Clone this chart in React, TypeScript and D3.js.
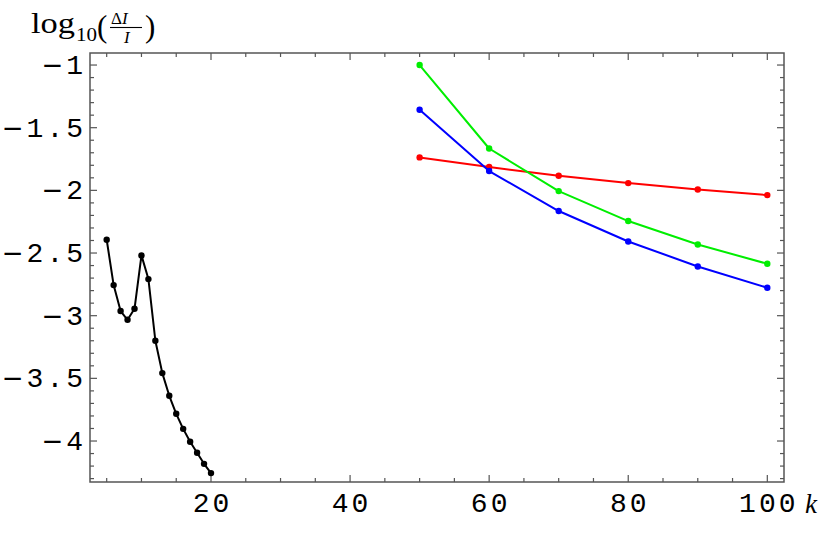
import React from "react";
import * as d3 from "d3";

const blackK = [5, 6, 7, 8, 9, 10, 11, 12, 13, 14, 15, 16, 17, 18, 19, 20];
const blackV = [-2.394, -2.756, -2.963, -3.033, -2.945, -2.519, -2.708, -3.2, -3.458, -3.639, -3.783, -3.903, -4.006, -4.094, -4.182, -4.256];

const colorK = [50, 60, 70, 80, 90, 100];
const greenV = [-1.0, -1.666, -2.006, -2.245, -2.432, -2.586];
const blueV = [-1.357, -1.846, -2.165, -2.408, -2.607, -2.777];
const redV = [-1.737, -1.814, -1.883, -1.942, -1.993, -2.038];

const xMajor = [20, 40, 60, 80, 100];
const xLabels = ["20", "40", "60", "80", "100"];
const yMajor = [-4, -3.5, -3, -2.5, -2, -1.5, -1];
const yLabels = ["4", "3.5", "3", "2.5", "2", "1.5", "1"];

const W = 830;
const H = 556;
const L = 90, R = 784, T = 53, B = 482;

export default function App() {
  const x = d3.scaleLinear().domain([2.6, 102.4]).range([L, R]);
  const y = d3.scaleLinear().domain([-4.327, -0.904]).range([B, T]);

  const line = d3
    .line<[number, number]>()
    .x((d) => x(d[0]))
    .y((d) => y(d[1]));

  const series = [
    { k: blackK, v: blackV, c: "#000000" },
    { k: colorK, v: redV, c: "#ff0000" },
    { k: colorK, v: greenV, c: "#00ee00" },
    { k: colorK, v: blueV, c: "#0000ff" },
  ];

  const xMinor: number[] = [];
  for (let i = 5; i <= 100; i += 5) if (!xMajor.includes(i)) xMinor.push(i);
  const yMinor: number[] = [];
  for (let i = -43; i <= -10; i++) if (i % 5 !== 0) yMinor.push(i / 10);

  const frameColor = "#555";
  const monoStyle: React.CSSProperties = {
    fontFamily: "'Liberation Mono', monospace",
    fontSize: 28,
    letterSpacing: "3px",
  };

  return (
    <svg width={W} height={H} style={{ position: "absolute", left: 0, top: 0, background: "#fff" }}>
      <rect x={0} y={0} width={W} height={H} fill="#fff" />
      {/* ticks */}
      <g stroke={frameColor} strokeWidth={1.2}>
        {xMajor.map((t) => (
          <g key={"xm" + t}>
            <line x1={x(t)} x2={x(t)} y1={B} y2={B - 7} />
            <line x1={x(t)} x2={x(t)} y1={T} y2={T + 7} />
          </g>
        ))}
        {xMinor.map((t) => (
          <g key={"xn" + t}>
            <line x1={x(t)} x2={x(t)} y1={B} y2={B - 4} />
            <line x1={x(t)} x2={x(t)} y1={T} y2={T + 4} />
          </g>
        ))}
        {yMajor.map((t) => (
          <g key={"ym" + t}>
            <line x1={L} x2={L + 7} y1={y(t)} y2={y(t)} />
            <line x1={R} x2={R - 7} y1={y(t)} y2={y(t)} />
          </g>
        ))}
        {yMinor.map((t) => (
          <g key={"yn" + t}>
            <line x1={L} x2={L + 4} y1={y(t)} y2={y(t)} />
            <line x1={R} x2={R - 4} y1={y(t)} y2={y(t)} />
          </g>
        ))}
      </g>
      <rect x={L} y={T} width={R - L} height={B - T} fill="none" stroke={frameColor} strokeWidth={1.5} />

      {/* series */}
      {series.map((s, i) => {
        const pts: [number, number][] = s.k.map((k, j) => [k, s.v[j]]);
        return (
          <g key={"s" + i}>
            <path d={line(pts) || ""} fill="none" stroke={s.c} strokeWidth={2} strokeLinejoin="round" />
            {pts.map((p, j) => (
              <circle key={j} cx={x(p[0])} cy={y(p[1])} r={3.2} fill={s.c} />
            ))}
          </g>
        );
      })}

      {/* x labels */}
      {xMajor.map((t, i) => (
        <text key={"xl" + t} x={x(t) + 1.5} y={512} textAnchor="middle" style={monoStyle} fill="#000">
          {xLabels[i]}
        </text>
      ))}
      {/* y labels */}
      {yMajor.map((t, i) => (
        <text key={"yl" + t} x={86} y={y(t) + 9} textAnchor="end" style={monoStyle} fill="#000">
          <tspan style={{ fontFamily: "'DejaVu Sans', sans-serif", fontSize: 26 }}>{"\u2212"}</tspan>
          {yLabels[i]}
        </text>
      ))}

      {/* axis label k */}
      <text x={805} y={513} style={{ fontFamily: "'Liberation Serif', serif", fontStyle: "italic", fontSize: 27 }} fill="#000">
        k
      </text>

      {/* y title log10(ΔI/I) */}
      <g fill="#000" style={{ fontFamily: "'Liberation Serif', serif" }}>
        <text x={31} y={33} fontSize={30} textLength={44} lengthAdjust="spacingAndGlyphs">log</text>
        <text x={76} y={41} fontSize={19} textLength={21} lengthAdjust="spacingAndGlyphs">10</text>
        <text x={97} y={37} fontSize={31}>(</text>
        <text x={111} y={24} fontSize={17}>
          Δ<tspan fontStyle="italic">I</tspan>
        </text>
        <line x1={110} x2={142} y1={27.5} y2={27.5} stroke="#000" strokeWidth={1.1} />
        <text x={124} y={43} fontSize={17} fontStyle="italic">I</text>
        <text x={145} y={37} fontSize={31}>)</text>
      </g>
    </svg>
  );
}
